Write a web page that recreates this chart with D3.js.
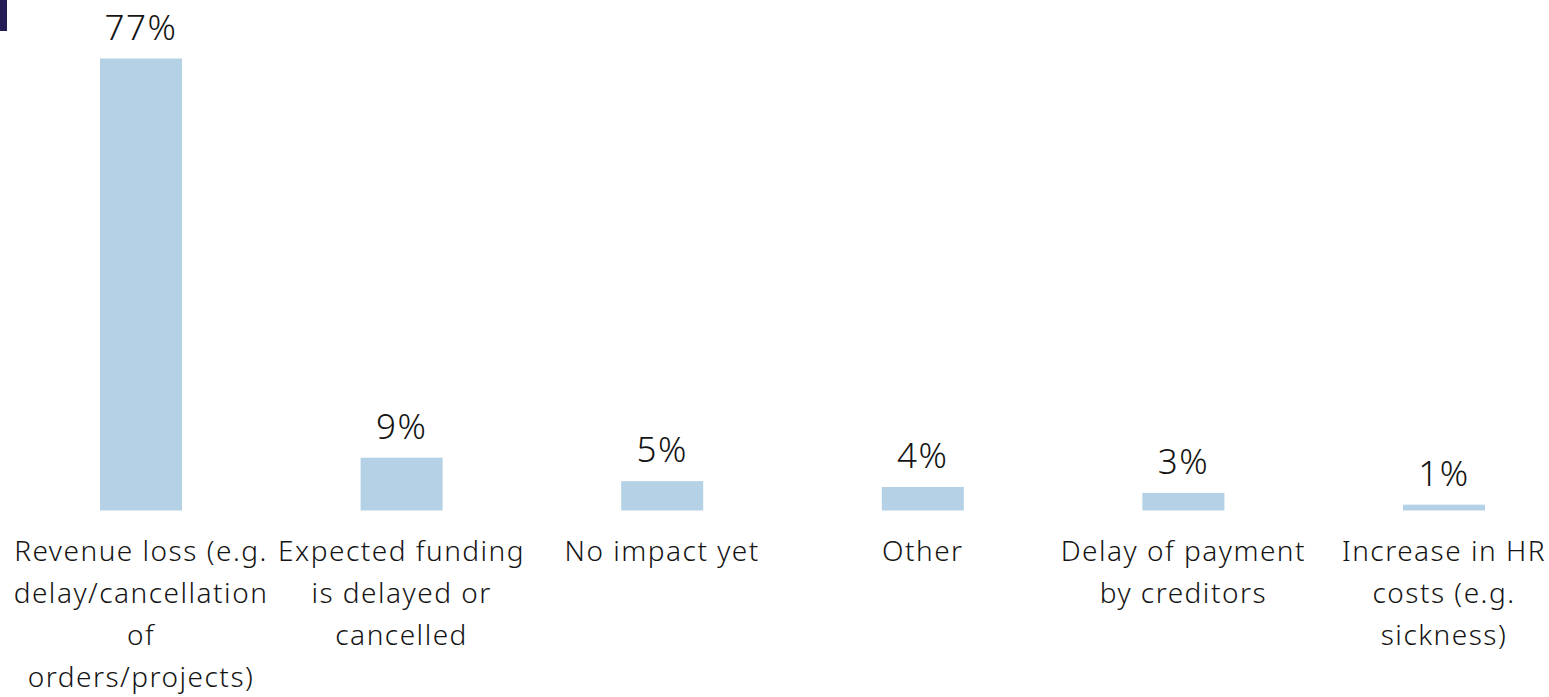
<!DOCTYPE html>
<html>
<head>
<meta charset="utf-8">
<script src="https://cdn.jsdelivr.net/npm/d3@7"></script>
<style>
  html, body { margin: 0; padding: 0; background: #ffffff; }
  svg { display: block; }
</style>
</head>
<body>
<svg id="chart" width="1549" height="697"></svg>
<script>
// Impact categories, each split into the lines shown under its bar
const categories = [
  ["Revenue loss (e.g.", "delay/cancellation", "of", "orders/projects)"],
  ["Expected funding", "is delayed or", "cancelled"],
  ["No impact yet"],
  ["Other"],
  ["Delay of payment", "by creditors"],
  ["Increase in HR", "costs (e.g.", "sickness)"]
];
const values = [77, 9, 5, 4, 3, 1];
const valueLabels = ["77%", "9%", "5%", "4%", "3%", "1%"];

const svg = d3.select("#chart");
const font = "'Noto Sans', 'Open Sans', sans-serif";

const baseline = 510.5;
const x = d3.scalePoint().domain(d3.range(categories.length)).range([141, 1444]);
const y = d3.scaleLinear().domain([0, 77]).range([baseline, 58.5]);
const barW = 82;

// small accent block in the corner
svg.append("rect")
  .attr("x", 0).attr("y", 0).attr("width", 7).attr("height", 31)
  .attr("fill", "#231c55");

const g = svg.append("g");

g.selectAll("rect.bar")
  .data(values)
  .join("rect")
  .attr("class", "bar")
  .attr("x", (d, i) => x(i) - barW / 2)
  .attr("y", d => y(d))
  .attr("width", barW)
  .attr("height", d => baseline - y(d))
  .attr("fill", "#b5d1e6");

g.selectAll("text.value")
  .data(values)
  .join("text")
  .attr("class", "value")
  .attr("x", (d, i) => x(i))
  .attr("y", d => y(d) - 19)
  .attr("text-anchor", "middle")
  .attr("font-family", font)
  .attr("font-weight", 300)
  .attr("font-size", 35)
  .attr("letter-spacing", 1.5)
  .attr("fill", "#141414")
  .text((d, i) => valueLabels[i]);

const labels = g.selectAll("text.cat")
  .data(categories)
  .join("text")
  .attr("class", "cat")
  .attr("text-anchor", "middle")
  .attr("font-family", font)
  .attr("font-weight", 300)
  .attr("font-size", 28)
  .attr("letter-spacing", 1.5)
  .attr("fill", "#141414");

labels.selectAll("tspan")
  .data((d, i) => d.map(line => ({ line, i })))
  .join("tspan")
  .attr("x", d => x(d.i))
  .attr("y", (d, j) => 561 + j * 42)
  .text(d => d.line);
</script>
</body>
</html>
